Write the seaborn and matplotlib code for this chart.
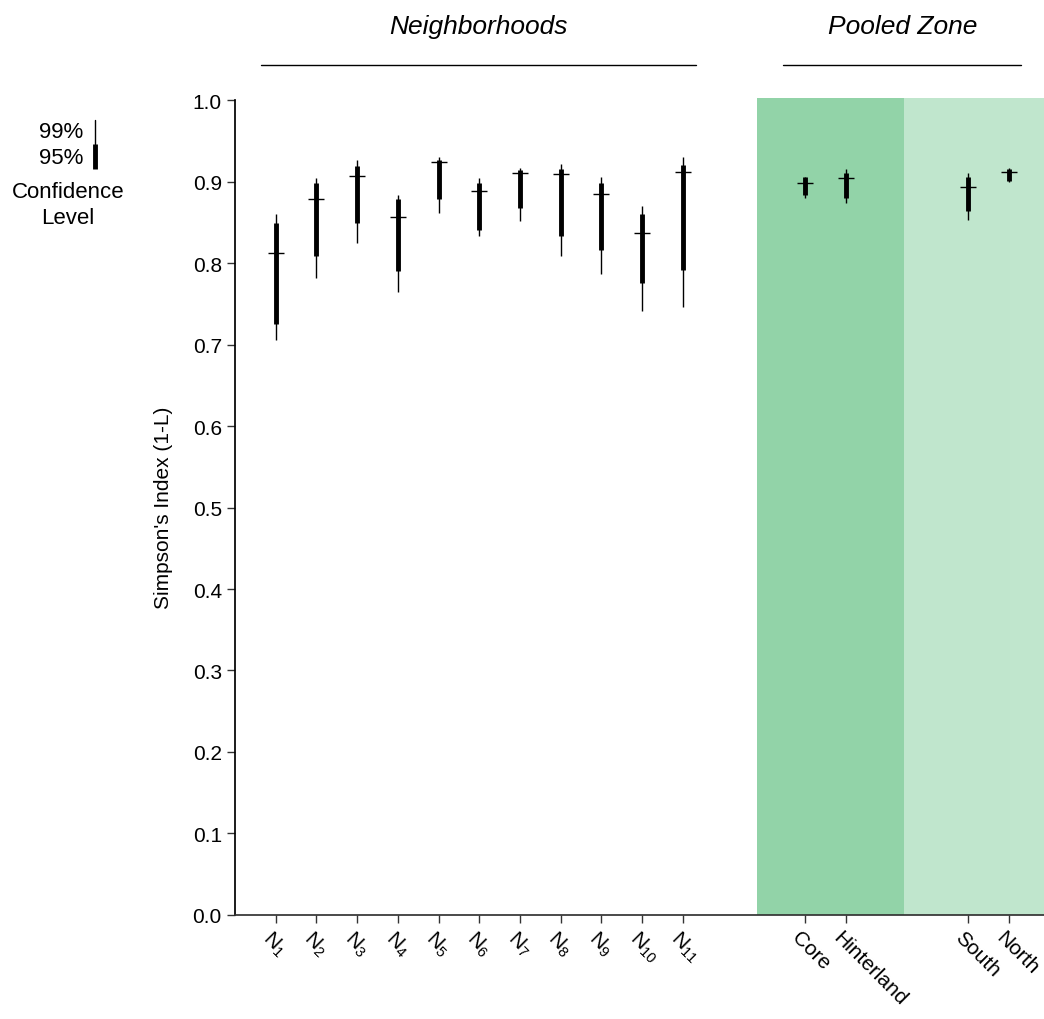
import matplotlib
matplotlib.use("Agg")
import matplotlib.pyplot as plt
import matplotlib.transforms as mtransforms
import pandas as pd
import seaborn as sns
from matplotlib.lines import Line2D

# Data
sites = ["N1", "N2", "N3", "N4", "N5", "N6", "N7", "N8", "N9", "N10", "N11",
         "Core", "Hinterland", "South", "North"]
positions = [1, 2, 3, 4, 5, 6, 7, 8, 9, 10, 11, 14, 15, 18, 19]
mean_val = [0.812, 0.879, 0.907, 0.856, 0.924, 0.889, 0.911, 0.909, 0.885, 0.837, 0.912,
            0.898, 0.904, 0.893, 0.912]
ci95_lo = [0.725, 0.809, 0.849, 0.790, 0.879, 0.841, 0.868, 0.833, 0.816, 0.776, 0.791,
           0.884, 0.880, 0.864, 0.901]
ci95_hi = [0.849, 0.898, 0.919, 0.878, 0.926, 0.898, 0.914, 0.915, 0.898, 0.860, 0.920,
           0.905, 0.910, 0.905, 0.915]
ci99_lo = [0.706, 0.782, 0.825, 0.765, 0.861, 0.833, 0.851, 0.809, 0.786, 0.741, 0.746,
           0.880, 0.874, 0.853, 0.899]
ci99_hi = [0.860, 0.904, 0.926, 0.883, 0.930, 0.904, 0.917, 0.921, 0.906, 0.870, 0.930,
           0.906, 0.915, 0.910, 0.917]

df = pd.DataFrame({"site": sites, "x": positions, "mean": mean_val,
                   "lo95": ci95_lo, "hi95": ci95_hi, "lo99": ci99_lo, "hi99": ci99_hi})

sns.set_theme(style="ticks")
plt.rcParams["font.family"] = ["Liberation Sans", "DejaVu Sans"]
plt.rcParams["mathtext.fontset"] = "custom"
plt.rcParams["mathtext.rm"] = "Liberation Sans"
plt.rcParams["mathtext.it"] = "Liberation Sans:italic"
plt.rcParams["text.color"] = "black"
plt.rcParams["axes.labelcolor"] = "black"
plt.rcParams["xtick.color"] = "black"
plt.rcParams["ytick.color"] = "black"

fig = plt.figure(figsize=(10.44, 10.2), dpi=100)
ax = fig.add_axes([0.2251, 0.1020, 0.7749, 0.8009])

# shaded pooled zones
ax.axvspan(12.82, 16.43, color="#92d3a8", lw=0, zorder=0)
ax.axvspan(16.43, 19.87, color="#c0e6cd", lw=0, zorder=0)

# confidence intervals
ax.vlines(df["x"], df["lo99"], df["hi99"], color="black", lw=1.0, zorder=2)
ax.vlines(df["x"], df["lo95"], df["hi95"], color="black", lw=3.5, zorder=3)
sns.scatterplot(data=df, x="x", y="mean", marker="_", s=135, color="black",
                linewidth=1.0, ax=ax, zorder=4, legend=False)

ax.set_xlim(0, 19.87)
ax.set_ylim(0, 1.0025)
ax.set_yticks([0.0, 0.1, 0.2, 0.3, 0.4, 0.5, 0.6, 0.7, 0.8, 0.9, 1.0])
ax.set_yticklabels([f"{v:.1f}" for v in ax.get_yticks()])
labels = [f"N$_{{{s[1:]}}}$" if s.startswith("N") and s[1:].isdigit() else s for s in sites]
ax.set_xticks(positions)
ax.set_xticklabels(labels, rotation=-45, ha="left", va="center", rotation_mode="anchor")
ax.tick_params(axis="both", labelsize=15, length=6, width=1, color="#333333")
ax.tick_params(axis="x", pad=8)
# nudge rotated labels a little left so they start just left of the tick
shift = mtransforms.ScaledTranslation(-7 / 72, 0, fig.dpi_scale_trans)
for lab in ax.get_xticklabels():
    lab.set_transform(lab.get_transform() + shift)
ax.set_xlabel("")
ax.set_ylabel("Simpson's Index (1-L)", fontsize=15, labelpad=14)

sns.despine(ax=ax, top=True, right=True)
ax.spines["left"].set_bounds(0, 1.0)
ax.spines["left"].set_color("black")
ax.spines["bottom"].set_color("#333333")

# group headers above the axes
trans = ax.get_xaxis_transform()
ax.plot([0.63, 11.32], [1.0404, 1.0404], color="black", lw=1, transform=trans, clip_on=False)
ax.plot([13.46, 19.3], [1.0404, 1.0404], color="black", lw=1, transform=trans, clip_on=False)
ax.text(5.97, 1.088, "Neighborhoods", transform=trans, ha="center", va="center",
        fontsize=19, style="italic")
ax.text(16.4, 1.088, "Pooled Zone", transform=trans, ha="center", va="center",
        fontsize=19, style="italic")

# confidence level key
fig.text(83 / 1044, 1 - 132 / 1020, "99%", ha="right", va="center", fontsize=16)
fig.text(83 / 1044, 1 - 158 / 1020, "95%", ha="right", va="center", fontsize=16)
fig.add_artist(Line2D([95 / 1044, 95 / 1044], [1 - 121 / 1020, 1 - 147 / 1020],
                      color="black", lw=1.0))
fig.add_artist(Line2D([95 / 1044, 95 / 1044], [1 - 145 / 1020, 1 - 170 / 1020],
                      color="black", lw=3.5, solid_capstyle="butt"))
fig.text(68 / 1044, 1 - 192 / 1020, "Confidence", ha="center", va="center", fontsize=16)
fig.text(68 / 1044, 1 - 219 / 1020, "Level", ha="center", va="center", fontsize=16)

fig.savefig("out.png", dpi=100)
